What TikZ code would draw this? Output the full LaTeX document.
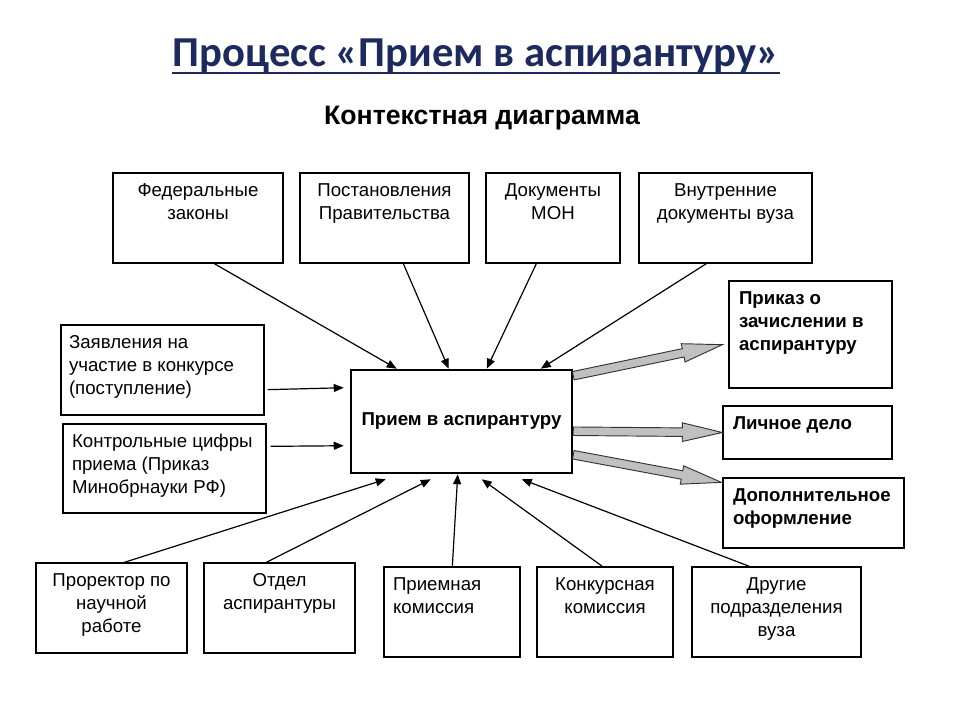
\documentclass[tikz,border=0pt]{standalone}
\usepackage{fontspec}
\setmainfont{Liberation Sans}
\newfontfamily\titlefont{Carlito}
\usetikzlibrary{calc,arrows.meta}
\definecolor{titleblue}{RGB}{28,42,96}
\definecolor{arrowgray}{RGB}{192,192,192}

\tikzset{
  boxst/.style={draw, line width=1pt, inner ysep=0pt, font=\fontsize{14}{17}\selectfont},
  mainbox/.style={draw, line width=1.9pt, inner sep=0pt, font=\bfseries\fontsize{14}{17}\selectfont},
  flow/.style={line width=0.9pt, -{Triangle[length=7.5pt,width=6pt]}},
  outarrow/.style={draw=black!80, line width=0.7pt, fill=arrowgray, line join=miter}
}

% name, x1, y1, x2, y2, pad(px), alignment, content
\newcommand\bx[8]{%
  \node[boxst, inner xsep=#6*0.75pt] (#1) at ({(#2+#4)/2},{(#3+#5)/2})
  {\parbox[c][\dimexpr(#5pt-#3pt)*3/4\relax][t]{\dimexpr(#4pt-#2pt)*3/4-#6pt*3/2\relax}{#7\vspace*{6pt}\strut#8}};}

\newcommand\blockarrow[2]{%
  \path let \p1=($(#2)-(#1)$) in \pgfextra{%
    \pgfmathsetmacro\baang{atan2(\y1,\x1)}%
    \pgfmathsetmacro\balen{veclen(\x1,\y1)}%
    \global\let\baang\baang\global\let\balen\balen};
  \draw[outarrow, shift={(#1)}, rotate=\baang]
    (0pt,3.2pt) -- (\balen pt-30pt,3.2pt) -- (\balen pt-30pt,7pt) -- (\balen pt,0pt)
    -- (\balen pt-30pt,-7pt) -- (\balen pt-30pt,-3.2pt) -- (0pt,-3.2pt) -- cycle;}

\begin{document}
\begin{tikzpicture}[x=0.75pt,y=-0.75pt]
\useasboundingbox[fill=white] (0,0) rectangle (960,720);

% titles
\node[font=\titlefont\bfseries\fontsize{32}{38}\selectfont, text=titleblue, anchor=base, inner sep=0pt] (title) at (476,67) {Процесс «Прием в аспирантуру»};
\draw[titleblue, line width=1.6pt] ($(title.base west)+(0,6)$) -- ($(title.base east)+(0,6)$);
\node[font=\bfseries\fontsize{20}{24}\selectfont, anchor=base, inner sep=0pt] (subtitle) at (482,125) {Контекстная диаграмма};

% main box
\node[mainbox, minimum width=221*0.75pt, minimum height=103*0.75pt] (main) at (461.5,421.5) {Прием в аспирантуру};

% top boxes
\bx{fed}{113}{173}{283}{263}{4}{\centering}{Федеральные\\законы}
\bx{post}{300}{173}{469}{263}{4}{\centering}{Постановления\\Правительства}
\bx{mon}{486}{173}{620}{263}{4}{\centering}{Документы\\МОН}
\bx{vnut}{639}{173}{812}{263}{4}{\centering}{Внутренние\\документы вуза}

% left boxes
\bx{zayav}{61}{325}{264}{415}{8}{\raggedright}{Заявления на\\участие в конкурсе\\(поступление)}
\bx{kcp}{63}{424}{266}{513}{9}{\raggedright}{Контрольные цифры\\приема (Приказ\\Минобрнауки РФ)}

% right boxes
\bx{prikaz}{729}{281}{892}{388}{10}{\raggedright\bfseries}{Приказ о\\зачислении в\\аспирантуру}
\bx{lichn}{723}{406}{892}{459}{10}{\raggedright\bfseries}{Личное дело}
\bx{dop}{723}{478}{904}{548}{10}{\raggedright\bfseries}{Дополнительное\\оформление}

% bottom boxes
\bx{prorek}{36}{563}{187}{653}{4}{\centering}{Проректор по\\научной\\работе}
\bx{otdel}{204}{563}{355}{653}{4}{\centering}{Отдел\\аспирантуры}
\bx{priem}{384}{567}{520}{657}{9}{\raggedright}{Приемная\\комиссия}
\bx{konk}{537}{567}{673}{657}{4}{\centering}{Конкурсная\\комиссия}
\bx{drug}{692}{567}{861}{657}{4}{\centering}{Другие\\подразделения\\вуза}

% controls
\draw[flow] ($(fed.south west)+(102,0)$) -- ($(main.north west)+(47,0)$);
\draw[flow] ($(post.south west)+(104,0)$) -- ($(main.north west)+(99,0)$);
\draw[flow] ($(mon.south west)+(51,0)$) -- ($(main.north west)+(137,0)$);
\draw[flow] ($(vnut.south west)+(68,0)$) -- ($(main.north west)+(191,0)$);

% inputs
\draw[flow] ($(zayav.south east)+(3,-26)$) -- ($(main.north west)+(-6,19)$);
\draw[flow] ($(kcp.north east)+(4,23)$) -- ($(main.north west)+(-6,77)$);

% mechanisms
\draw[flow] ($(prorek.north west)+(89,0)$) -- ($(main.south west)+(36,5)$);
\draw[flow] ($(otdel.north west)+(63,0)$) -- ($(main.south west)+(81,5)$);
\draw[flow] ($(priem.north west)+(69,0)$) -- ($(main.south west)+(108,0)$);
\draw[flow] ($(konk.north west)+(66,0)$) -- ($(main.south west)+(132,5)$);
\draw[flow] ($(drug.north west)+(58,0)$) -- ($(main.south west)+(172,5)$);

% outputs
\coordinate (o1s) at ($(main.north east)+(0,7)$);
\coordinate (o1e) at ($(prikaz.south west)+(-6,-44)$);
\coordinate (o2s) at ($(main.north east)+(0,62.5)$);
\coordinate (o2e) at (lichn.west);
\coordinate (o3s) at ($(main.north east)+(0,86)$);
\coordinate (o3e) at ($(dop.north west)+(-1,5)$);
\blockarrow{o1s}{o1e}
\blockarrow{o2s}{o2e}
\blockarrow{o3s}{o3e}
\end{tikzpicture}
\end{document}
